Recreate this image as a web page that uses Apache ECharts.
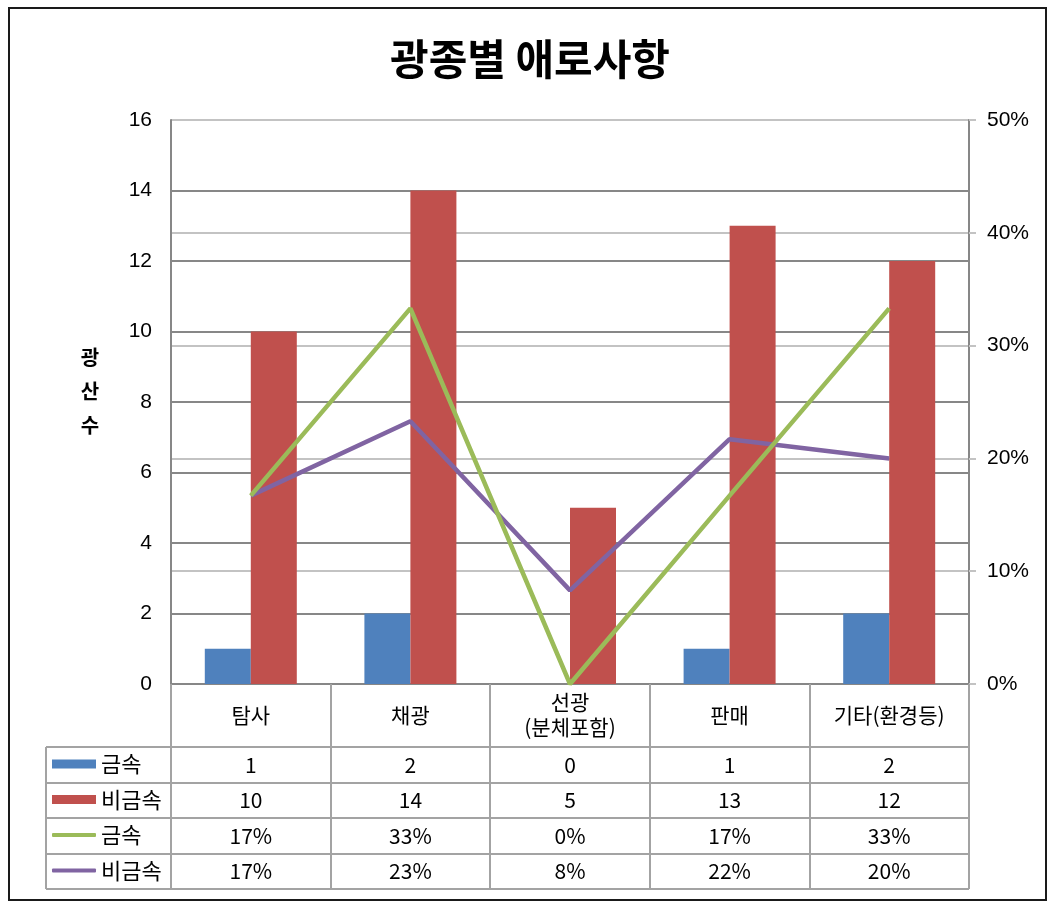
<!DOCTYPE html>
<html>
<head>
<meta charset="utf-8" />
<title>광종별 애로사항</title>
<script src="https://cdn.jsdelivr.net/npm/echarts@6/dist/echarts.min.js"></script>
<style>
  html, body { margin: 0; padding: 0; background: #fff; }
</style>
</head>
<body>
<div id="main" style="width:1060px;height:908px"></div>
<script>
  // 카테고리 / 데이터
  var categories = ['탐사', '채광', '선광\n(분체포함)', '판매', '기타(환경등)'];
  var metalCount = [1, 2, 0, 1, 2];          // 금속 (광산 수)
  var nonMetalCount = [10, 14, 5, 13, 12];   // 비금속 (광산 수)
  var metalPct = [16.7, 33.3, 0, 16.7, 33.3];      // 금속 비율 (%)
  var nonMetalPct = [16.7, 23.3, 8.3, 21.7, 20.0]; // 비금속 비율 (%)
  var rowNames = ['금속', '비금속', '금속', '비금속'];

  // layout
  var gLeft = 171, gRight = 969, gTop = 120, gBottom = 684;
  var rowLines = [747, 783, 818, 854, 889];
  var tableLeft = 46;
  var gridCol = '#878787', lightCol = '#c3c3c3', tableCol = '#a3a3a3';
  var cjk = '"Noto Sans CJK KR", sans-serif';
  var num = '"Liberation Sans", Arial, sans-serif';

  function pctLabel(arr) {
    return arr.map(function (v) { return Math.round(v) + '%'; });
  }

  var rows = [
    metalCount.map(String),
    nonMetalCount.map(String),
    pctLabel(metalPct),
    pctLabel(nonMetalPct)
  ];

  var xAxes = [{
    type: 'category',
    position: 'bottom',
    data: categories,
    axisLine: { show: true, lineStyle: { color: gridCol, width: 2 } },
    axisTick: { show: true, length: rowLines[4] - gBottom, lineStyle: { color: tableCol, width: 2 } },
    axisLabel: {
      interval: 0, margin: 31, verticalAlign: 'middle',
      color: '#000', fontFamily: cjk, fontSize: 21, lineHeight: 25
    },
    splitLine: { show: false }
  }];
  rows.forEach(function (r, i) {
    var center = (rowLines[i] + rowLines[i + 1]) / 2;
    xAxes.push({
      type: 'category',
      position: 'bottom',
      data: r,
      axisLine: { show: false },
      axisTick: { show: false },
      axisLabel: {
        interval: 0, margin: center - gBottom, verticalAlign: 'middle',
        color: '#000', fontFamily: cjk, fontSize: 21
      },
      splitLine: { show: false }
    });
  });

  var graphics = [{
    type: 'rect',
    shape: { x: 9, y: 8, width: 1037, height: 892 },
    style: { fill: 'none', stroke: '#1a1a1a', lineWidth: 2 }
  }, {
    type: 'line',
    shape: { x1: tableLeft, y1: rowLines[0], x2: tableLeft, y2: rowLines[4] },
    style: { stroke: tableCol, lineWidth: 2 }
  }];
  rowLines.forEach(function (y) {
    graphics.push({
      type: 'line',
      shape: { x1: tableLeft, y1: y, x2: gRight, y2: y },
      style: { stroke: tableCol, lineWidth: 2 }
    });
  });

  var seriesNames = ['금속', '비금속', '금속 비율', '비금속 비율'];
  var legends = seriesNames.map(function (n, i) {
    var center = (rowLines[i] + rowLines[i + 1]) / 2;
    var isBar = i < 2;
    return {
      data: [n],
      left: 52,
      top: center - 12,
      padding: 0,
      selectedMode: false,
      icon: isBar ? 'rect' : 'roundRect',
      itemWidth: 44,
      itemHeight: isBar ? 9 : 4,
      textStyle: { color: '#000', fontFamily: cjk, fontSize: 22 },
      formatter: function () { return rowNames[i]; }
    };
  });

  var option = {
    backgroundColor: '#fff',
    animation: false,
    title: {
      text: '광종별 애로사항',
      left: 'center',
      top: 33,
      textStyle: { fontFamily: cjk, fontSize: 42, fontWeight: 'bold', color: '#000' }
    },
    legend: legends,
    grid: { left: gLeft, right: 1060 - gRight, top: gTop, bottom: 908 - gBottom },
    xAxis: xAxes,
    yAxis: [{
      type: 'value',
      min: 0, max: 16, interval: 2,
      name: '{t|광\n산\n수}',
      nameLocation: 'middle',
      nameRotate: 0,
      nameGap: 81,
      nameTextStyle: {
        align: 'center', verticalAlign: 'middle',
        rich: {
          t: {
            fontFamily: cjk, fontSize: 20, fontWeight: 'bold', color: '#000',
            lineHeight: 34, padding: [0, 0, 22, 0]
          }
        }
      },
      axisLine: { show: true, lineStyle: { color: gridCol, width: 2 } },
      axisTick: { show: false },
      axisLabel: { margin: 19, color: '#000', fontFamily: num, fontSize: 21 },
      splitLine: { show: true, lineStyle: { color: gridCol, width: 2 } }
    }, {
      type: 'value',
      min: 0, max: 50, interval: 10,
      position: 'right',
      axisLine: { show: true, lineStyle: { color: gridCol, width: 2 } },
      axisTick: { show: true, inside: false, length: 7, lineStyle: { color: lightCol, width: 2 } },
      axisLabel: {
        margin: 18, color: '#000', fontFamily: num, fontSize: 21,
        formatter: '{value}%'
      },
      splitLine: { show: true, lineStyle: { color: lightCol, width: 2 } }
    }],
    series: [{
      name: '금속', type: 'bar', xAxisIndex: 0, yAxisIndex: 0,
      barWidth: 46, barGap: '0%',
      itemStyle: { color: '#4f81bd' },
      data: metalCount
    }, {
      name: '비금속', type: 'bar', xAxisIndex: 0, yAxisIndex: 0,
      barWidth: 46, barGap: '0%',
      itemStyle: { color: '#c0504d' },
      data: nonMetalCount
    }, {
      name: '금속 비율', type: 'line', xAxisIndex: 0, yAxisIndex: 1,
      symbol: 'none', showSymbol: false,
      lineStyle: { color: '#9bbb59', width: 4.5 },
      itemStyle: { color: '#9bbb59' },
      data: metalPct, z: 4
    }, {
      name: '비금속 비율', type: 'line', xAxisIndex: 0, yAxisIndex: 1,
      symbol: 'none', showSymbol: false,
      lineStyle: { color: '#8064a2', width: 4.5 },
      itemStyle: { color: '#8064a2' },
      data: nonMetalPct, z: 3
    }],
    graphic: graphics
  };

  var myChart = echarts.init(document.getElementById('main'));
  myChart.setOption(option);
</script>
</body>
</html>
